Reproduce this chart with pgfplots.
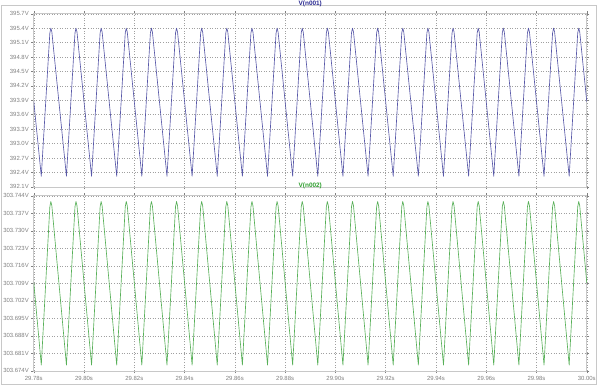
\documentclass[border=0pt]{standalone}
\usepackage{pgfplots}
\usepackage{pgfplotstable}
\pgfplotsset{compat=1.18}
\usepackage{fontspec}
\setmainfont{Liberation Sans}
\definecolor{tracea}{HTML}{5858A8}
\definecolor{traceb}{HTML}{58B058}
\definecolor{titlea}{HTML}{282890}
\definecolor{titleb}{HTML}{30A030}
\definecolor{lbl}{HTML}{808080}
\definecolor{grd}{HTML}{A0A0A0}
\definecolor{frm}{HTML}{C8C8C8}
\pgfplotstableread{
t v1 v2
29.7800 393.88 303.7094
29.7830 392.32 303.6763
29.7864 395.30 303.7396
29.7868 395.40 303.7417
29.7872 395.32 303.7400
29.7930 392.32 303.6763
29.7964 395.30 303.7396
29.7968 395.40 303.7417
29.7972 395.32 303.7400
29.8030 392.32 303.6763
29.8064 395.30 303.7396
29.8068 395.40 303.7417
29.8072 395.32 303.7400
29.8130 392.32 303.6763
29.8164 395.30 303.7396
29.8168 395.40 303.7417
29.8172 395.32 303.7400
29.8230 392.32 303.6763
29.8264 395.30 303.7396
29.8268 395.40 303.7417
29.8272 395.32 303.7400
29.8330 392.32 303.6763
29.8364 395.30 303.7396
29.8368 395.40 303.7417
29.8372 395.32 303.7400
29.8430 392.32 303.6763
29.8464 395.30 303.7396
29.8468 395.40 303.7417
29.8472 395.32 303.7400
29.8530 392.32 303.6763
29.8564 395.30 303.7396
29.8568 395.40 303.7417
29.8572 395.32 303.7400
29.8630 392.32 303.6763
29.8664 395.30 303.7396
29.8668 395.40 303.7417
29.8672 395.32 303.7400
29.8730 392.32 303.6763
29.8764 395.30 303.7396
29.8768 395.40 303.7417
29.8772 395.32 303.7400
29.8830 392.32 303.6763
29.8864 395.30 303.7396
29.8868 395.40 303.7417
29.8872 395.32 303.7400
29.8930 392.32 303.6763
29.8964 395.30 303.7396
29.8968 395.40 303.7417
29.8972 395.32 303.7400
29.9030 392.32 303.6763
29.9064 395.30 303.7396
29.9068 395.40 303.7417
29.9072 395.32 303.7400
29.9130 392.32 303.6763
29.9164 395.30 303.7396
29.9168 395.40 303.7417
29.9172 395.32 303.7400
29.9230 392.32 303.6763
29.9264 395.30 303.7396
29.9268 395.40 303.7417
29.9272 395.32 303.7400
29.9330 392.32 303.6763
29.9364 395.30 303.7396
29.9368 395.40 303.7417
29.9372 395.32 303.7400
29.9430 392.32 303.6763
29.9464 395.30 303.7396
29.9468 395.40 303.7417
29.9472 395.32 303.7400
29.9530 392.32 303.6763
29.9564 395.30 303.7396
29.9568 395.40 303.7417
29.9572 395.32 303.7400
29.9630 392.32 303.6763
29.9664 395.30 303.7396
29.9668 395.40 303.7417
29.9672 395.32 303.7400
29.9730 392.32 303.6763
29.9764 395.30 303.7396
29.9768 395.40 303.7417
29.9772 395.32 303.7400
29.9830 392.32 303.6763
29.9864 395.30 303.7396
29.9868 395.40 303.7417
29.9872 395.32 303.7400
29.9930 392.32 303.6763
29.9964 395.30 303.7396
29.9968 395.40 303.7417
29.9972 395.32 303.7400
30.0000 393.87 303.7092
}\wave
\pgfplotsset{
  ltpane/.style={
    scale only axis,
    width=556bp,
    anchor=south west,
    xmin=29.78, xmax=30.00,
    xtick={29.78,29.80,29.82,29.84,29.86,29.88,29.90,29.92,29.94,29.96,29.98,30.00},
    grid=major,
    major grid style={grd, dash pattern=on 1bp off 1.6bp, line width=0.4pt},
    axis line style={frm, line width=0.6pt},
    tick style={lbl, line width=0.4pt},
    tick align=outside,
    major tick length=2.5bp,
    ticklabel style={font=\fontsize{6}{7}\selectfont, text=lbl},
    /pgf/number format/assume math mode=true,
    yticklabel style={xshift=1bp},
    clip mode=individual,
    title style={font=\fontsize{6.5}{7}\selectfont\bfseries, inner sep=0.8bp, yshift=0bp},
  },
}
\begin{document}
\begin{tikzpicture}[x=1bp,y=1bp]
\fill[white] (0,0) rectangle (599,382);
\draw[frm, line width=0.6pt] (0.5,0.5) rectangle (598.5,381.5);
\begin{axis}[ltpane,
  at={(33bp,199bp)}, height=174bp,
  ymin=392.1, ymax=395.7,
  ytick={392.1,392.4,392.7,393.0,393.3,393.6,393.9,394.2,394.5,394.8,395.1,395.4,395.7},
  yticklabels={392.1V,392.4V,392.7V,393.0V,393.3V,393.6V,393.9V,394.2V,394.5V,394.8V,395.1V,395.4V,395.7V},
  xticklabels={},
  title={\textcolor{titlea}{V(n001)}},
]
\addplot[tracea, line width=0.65pt, line join=round] table[x=t, y=v1] {\wave};
\end{axis}
\begin{axis}[ltpane,
  at={(33bp,14bp)}, height=176bp,
  ymin=303.674, ymax=303.744,
  ytick={303.674,303.681,303.688,303.695,303.702,303.709,303.716,303.723,303.730,303.737,303.744},
  yticklabels={303.674V,303.681V,303.688V,303.695V,303.702V,303.709V,303.716V,303.723V,303.730V,303.737V,303.744V},
  xticklabels={29.78s,29.80s,29.82s,29.84s,29.86s,29.88s,29.90s,29.92s,29.94s,29.96s,29.98s,30.00s},
  title={\textcolor{titleb}{V(n002)}},
]
\addplot[traceb, line width=0.65pt, line join=round] table[x=t, y=v2] {\wave};
\end{axis}
\end{tikzpicture}
\end{document}
